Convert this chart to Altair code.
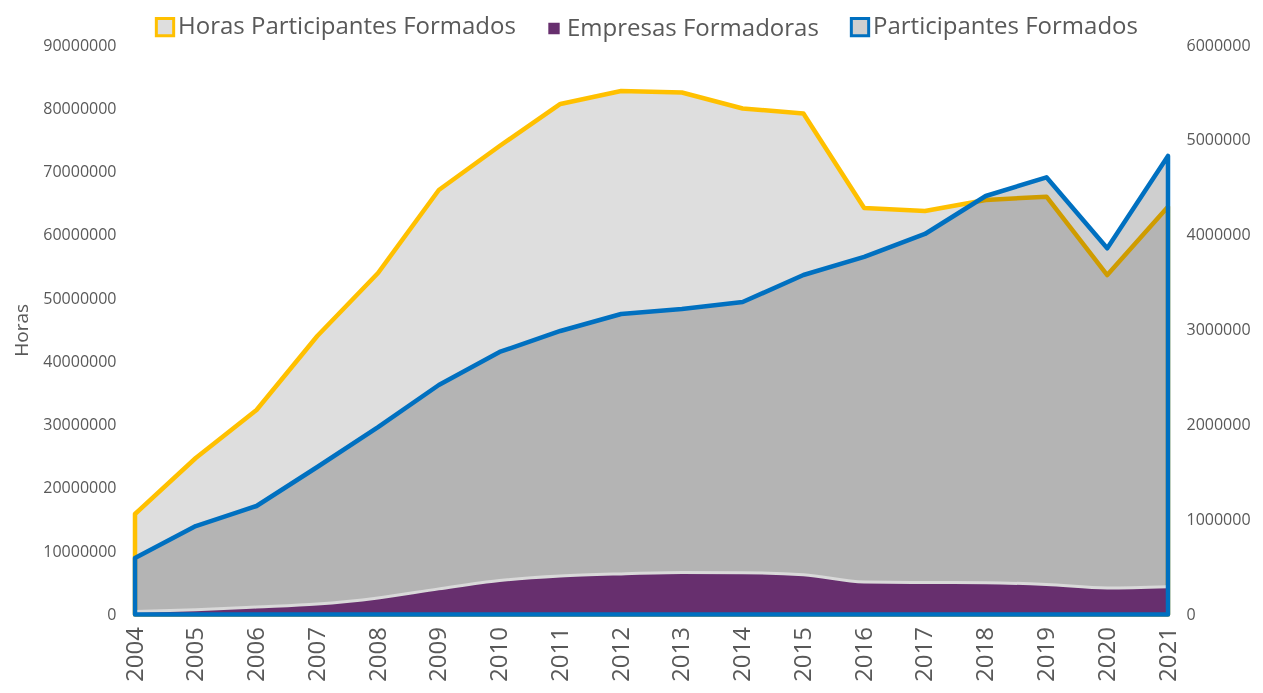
import altair as alt
import pandas as pd

years = [str(y) for y in range(2004, 2022)]
horas = [15880000, 24730000, 32320000, 44010000, 53970000, 67090000, 74040000, 80680000,
         82730000, 82490000, 79970000, 79170000, 64240000, 63770000, 65510000, 66030000,
         53650000, 64450000]
participantes = [595000, 932000, 1143000, 1554000, 1975000, 2418000, 2766000, 2987000,
                 3166000, 3219000, 3292000, 3577000, 3767000, 4009000, 4409000, 4606000,
                 3858000, 4831000]
empresas = [32000, 50000, 78000, 110000, 175000, 270000, 358000, 405000, 428000, 442000,
            440000, 420000, 342000, 337000, 335000, 316000, 279000, 292000]
series_names = ["Horas Participantes Formados", "Empresas Formadoras", "Participantes Formados"]
left_ticks = [0, 10000000, 20000000, 30000000, 40000000, 50000000, 60000000, 70000000, 80000000, 90000000]
right_ticks = [0, 1000000, 2000000, 3000000, 4000000, 5000000, 6000000]

df = pd.DataFrame({"year": years, "horas": horas, "part": participantes, "emp": empresas})
leg_df = pd.DataFrame({"series": series_names})

FONT = "Open Sans"
TXT = "#595959"

x_enc = alt.X("year:O", scale=alt.Scale(type="point", padding=0),
              axis=alt.Axis(labelAngle=-90, labelFontSize=24, labelPadding=12, domain=False,
                            ticks=False, title=None, labelColor=TXT, labelFont=FONT))

left_axis = alt.Axis(values=left_ticks, format="d", title="Horas", orient="left",
                     labelFont=FONT, labelFontSize=16, labelColor=TXT, labelPadding=19,
                     domain=False, ticks=False, grid=False, titleFont=FONT, titleFontSize=19,
                     titleColor=TXT, titleFontWeight="normal", titlePadding=11)
right_axis = alt.Axis(values=right_ticks, format="d", title=None, orient="right",
                      labelFont=FONT, labelFontSize=16, labelColor=TXT, labelPadding=18,
                      domain=False, ticks=False, grid=False)
left_scale = alt.Scale(domain=[0, 90000000], nice=False)
right_scale = alt.Scale(domain=[0, 6000000], nice=False)

horas_area = alt.Chart(df).mark_area(
    fill="#dedede", stroke="#FFC000", strokeWidth=4.5, strokeJoin="round"
).encode(x=x_enc, y=alt.Y("horas:Q", stack=None, scale=left_scale, axis=left_axis))

left = alt.layer(horas_area)

y_right = lambda f: alt.Y(f, stack=None, scale=right_scale, axis=right_axis)

part_fill = alt.Chart(df).mark_area(fill="#cfcfcf", blend="multiply").encode(
    x=x_enc, y=y_right("part:Q"))
emp_area = alt.Chart(df).mark_area(fill="#672f6e", interpolate="monotone").encode(
    x=x_enc, y=y_right("emp:Q"))
emp_line = alt.Chart(df).mark_line(stroke="#d9d9d9", strokeWidth=3, interpolate="monotone").encode(
    x=x_enc, y=y_right("emp:Q"))
part_outline = alt.Chart(df).mark_area(
    fill="transparent", stroke="#0070C0", strokeWidth=4.5, strokeJoin="round"
).encode(x=x_enc, y=y_right("part:Q"))

legend = alt.Legend(title=None, orient="none", legendX=18, legendY=-30, direction="horizontal",
                    labelFont=FONT, labelFontSize=24, labelColor=TXT, symbolStrokeWidth=3,
                    symbolFillColor="#d9d9d9", labelLimit=0,
                    columnPadding=26, labelOffset=1, padding=0)
leg_layer = alt.Chart(leg_df).mark_square(opacity=0).encode(
    fill=alt.Fill("series:N", sort=series_names,
                  scale=alt.Scale(domain=series_names, range=["#dedede", "#672f6e", "#cfcfcf"]),
                  legend=legend),
    stroke=alt.Stroke("series:N", sort=series_names,
                      scale=alt.Scale(domain=series_names, range=["#FFC000", "#672f6e", "#0070C0"]),
                      legend=legend),
    size=alt.Size("series:N", sort=series_names,
                  scale=alt.Scale(type="ordinal", domain=series_names, range=[300, 70, 300]),
                  legend=legend),
)

right = alt.layer(part_fill, emp_area, emp_line, part_outline, leg_layer)

chart = alt.layer(left, right).resolve_scale(y="independent").properties(
    width=1033, height=569.5,
    padding={"left": 127, "top": 37, "right": 86, "bottom": 69},
    autosize=alt.AutoSizeParams(type="none"),
).configure_view(stroke=None).configure_axis(grid=False)

chart.save("out.html", embed_options={"renderer": "svg", "actions": False})
